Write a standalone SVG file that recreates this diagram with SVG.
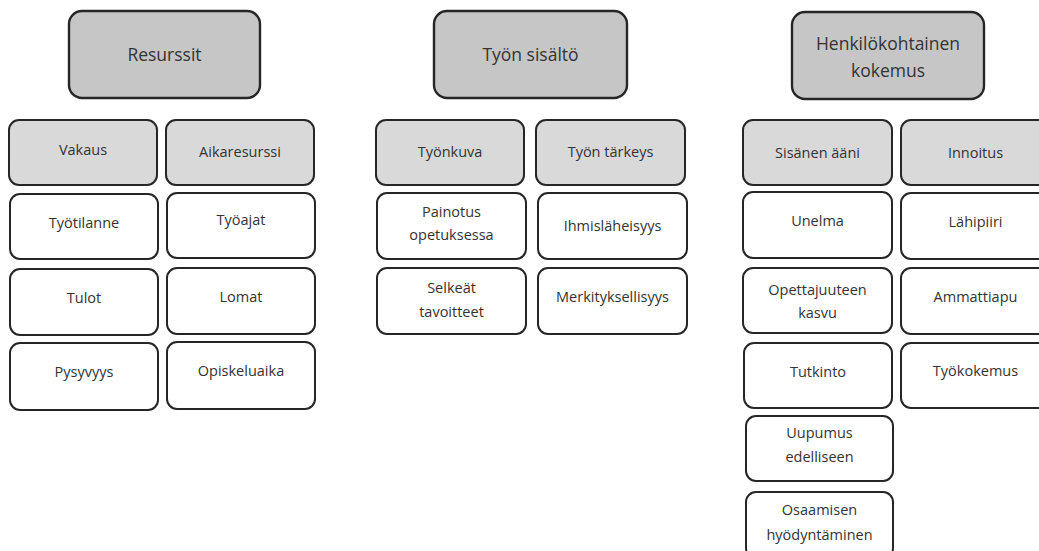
<svg xmlns="http://www.w3.org/2000/svg" width="1039" height="551" viewBox="0 0 1039 551">
<style>
g rect{stroke:#262626;stroke-width:2}
.t rect{fill:#c6c6c6;stroke-width:2.4}
.h rect{fill:#d9d9d9}
.c rect{fill:#ffffff}
text{font-family:"Open Sans","Liberation Sans",sans-serif;fill:#333333;text-anchor:middle}
.t text{font-size:17.5px}
.h text,.c text{font-size:14.5px}
</style>
<rect width="1039" height="551" fill="#ffffff"/>
<g id="connectors"/>
<!-- Column 1 -->
<g id="resurssit" class="t"><rect x="69" y="11" width="191" height="87" rx="13"/><text x="164.5" y="61">Resurssit</text></g>
<g id="vakaus" class="h"><rect x="9" y="120" width="148" height="65" rx="10"/><text x="83" y="155">Vakaus</text></g>
<g id="aikaresurssi" class="h"><rect x="166" y="120" width="148" height="65" rx="10"/><text x="240" y="157">Aikaresurssi</text></g>
<g id="tyotilanne" class="c"><rect x="10" y="194" width="148" height="65" rx="10"/><text x="84" y="228">Työtilanne</text></g>
<g id="tyoajat" class="c"><rect x="167" y="193" width="148" height="65" rx="10"/><text x="241" y="225">Työajat</text></g>
<g id="tulot" class="c"><rect x="10" y="269" width="148" height="66" rx="10"/><text x="84" y="303">Tulot</text></g>
<g id="lomat" class="c"><rect x="167" y="268" width="148" height="66" rx="10"/><text x="241" y="302">Lomat</text></g>
<g id="pysyvyys" class="c"><rect x="10" y="343" width="148" height="67" rx="10"/><text x="84" y="377">Pysyvyys</text></g>
<g id="opiskeluaika" class="c"><rect x="167" y="342" width="148" height="67" rx="10"/><text x="241" y="376">Opiskeluaika</text></g>
<!-- Column 2 -->
<g id="tyon-sisalto" class="t"><rect x="434" y="11" width="193" height="87" rx="13"/><text x="530.5" y="61">Työn sisältö</text></g>
<g id="tyonkuva" class="h"><rect x="376" y="120" width="148" height="65" rx="10"/><text x="450" y="157">Työnkuva</text></g>
<g id="tyon-tarkeys" class="h"><rect x="536" y="120" width="149" height="65" rx="10"/><text x="610.5" y="157">Työn tärkeys</text></g>
<g id="painotus" class="c"><rect x="377" y="193" width="149" height="66" rx="10"/><text x="451.5" y="217">Painotus</text><text x="451.5" y="240">opetuksessa</text></g>
<g id="ihmislaheisyys" class="c"><rect x="538" y="193" width="149" height="66" rx="10"/><text x="612.5" y="231">Ihmisläheisyys</text></g>
<g id="selkeat" class="c"><rect x="377" y="268" width="149" height="66" rx="10"/><text x="451.5" y="293">Selkeät</text><text x="451.5" y="317">tavoitteet</text></g>
<g id="merkityksellisyys" class="c"><rect x="538" y="268" width="149" height="66" rx="10"/><text x="612.5" y="302">Merkityksellisyys</text></g>
<!-- Column 3 -->
<g id="henkilokohtainen" class="t"><rect x="792" y="12" width="192" height="87" rx="13"/><text x="888" y="50">Henkilökohtainen</text><text x="888" y="77">kokemus</text></g>
<g id="sisanen-aani" class="h"><rect x="743" y="120" width="149" height="65" rx="10"/><text x="817.5" y="158">Sisänen ääni</text></g>
<g id="innoitus" class="h"><rect x="901" y="120" width="149" height="65" rx="10"/><text x="975.5" y="158">Innoitus</text></g>
<g id="unelma" class="c"><rect x="743" y="192" width="149" height="66" rx="10"/><text x="817.5" y="226">Unelma</text></g>
<g id="lahipiiri" class="c"><rect x="901" y="193" width="149" height="66" rx="10"/><text x="975.5" y="227">Lähipiiri</text></g>
<g id="opettajuuteen" class="c"><rect x="743" y="268" width="149" height="65" rx="10"/><text x="817.5" y="295">Opettajuuteen</text><text x="817.5" y="318">kasvu</text></g>
<g id="ammattiapu" class="c"><rect x="901" y="268" width="149" height="66" rx="10"/><text x="975.5" y="302">Ammattiapu</text></g>
<g id="tutkinto" class="c"><rect x="744" y="343" width="148" height="65" rx="10"/><text x="818" y="377">Tutkinto</text></g>
<g id="tyokokemus" class="c"><rect x="901" y="343" width="149" height="65" rx="10"/><text x="975.5" y="376">Työkokemus</text></g>
<g id="uupumus" class="c"><rect x="746" y="416" width="147" height="65" rx="10"/><text x="819.5" y="438">Uupumus</text><text x="819.5" y="462">edelliseen</text></g>
<g id="osaamisen" class="c"><rect x="746" y="492" width="147" height="66" rx="10"/><text x="819.5" y="515">Osaamisen</text><text x="819.5" y="540">hyödyntäminen</text></g>
</svg>
